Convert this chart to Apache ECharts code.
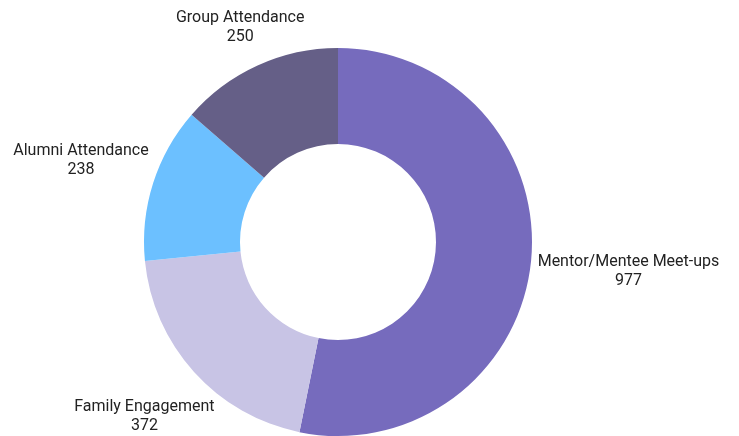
<!DOCTYPE html>
<html><head><meta charset="utf-8">
<script src="https://cdn.jsdelivr.net/npm/echarts@6/dist/echarts.min.js"></script>
<style>html,body{margin:0;padding:0;background:#fff}#c{width:739px;height:436px}</style>
</head><body><div id="c"></div>
<script>
const categories = ["Mentor/Mentee Meet-ups", "Family Engagement", "Alumni Attendance", "Group Attendance"];
const values = [977, 372, 238, 250];
const colors = ["#766BBD", "#C8C4E5", "#6CC0FF", "#655F87"];

const CX = 338, CY = 242, R_IN = 98, R_OUT = 194, LABEL_R = 200;
const total = values.reduce((a, b) => a + b, 0);

function midDir(i) {
  let before = 0;
  for (let k = 0; k < i; k++) before += values[k];
  const a = (before + values[i] / 2) / total * Math.PI * 2; // clockwise from top
  return [Math.sin(a), -Math.cos(a)];
}

const chart = echarts.init(document.getElementById('c'));
chart.setOption({
  animation: false,
  series: [{
    type: 'pie',
    center: [CX, CY],
    radius: [R_IN, R_OUT],
    startAngle: 90,
    clockwise: true,
    data: categories.map((n, i) => ({ name: n, value: values[i], itemStyle: { color: colors[i] } })),
    label: {
      show: true,
      position: 'outside',
      overflow: 'none',
      alignTo: 'none',
      edgeDistance: 0,
      bleedMargin: 0,
      formatter: '{a|{b}}\n{a|{c}}',
      rich: { a: { fontFamily: 'Roboto', fontSize: 16, color: '#222', lineHeight: 19, align: 'center' } }
    },
    labelLine: { show: false, length: 5, length2: 0 },
    labelLayout: function (p) {
      const d = midDir(p.dataIndex);
      const w = p.labelRect.width, h = p.labelRect.height;
      function dist(t) {
        const bx = CX + d[0] * t, by = CY + d[1] * t;
        const nx = Math.min(Math.max(CX, bx - w / 2), bx + w / 2);
        const ny = Math.min(Math.max(CY, by - h / 2), by + h / 2);
        return Math.hypot(nx - CX, ny - CY);
      }
      let lo = 0, hi = LABEL_R + w + h;
      for (let k = 0; k < 50; k++) {
        const m = (lo + hi) / 2;
        if (dist(m) < LABEL_R) lo = m; else hi = m;
      }
      return { x: CX + d[0] * hi, y: CY + d[1] * hi, align: 'center', verticalAlign: 'middle' };
    }
  }]
});
</script></body></html>
